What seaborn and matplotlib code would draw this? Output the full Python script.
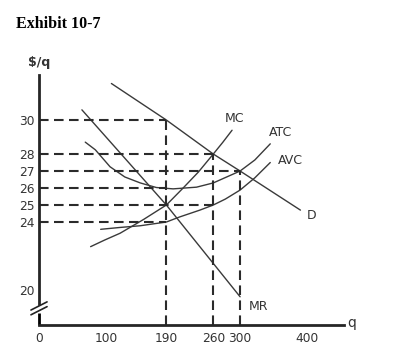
import numpy as np
import pandas as pd
import matplotlib
matplotlib.use("Agg")
import matplotlib.pyplot as plt
import seaborn as sns

# ==================== 曲线数据 ====================
d_q = [108, 190, 260, 300, 390]
d_p = [32.15, 30.0, 28.0, 27.0, 24.7]

mr_q = [64, 190, 300]
mr_p = [30.6, 25.0, 19.6]

mc_q = [77, 98, 121, 156, 190, 215, 238, 260, 274, 288]
mc_p = [22.55, 22.94, 23.34, 24.15, 25.0, 26.0, 26.95, 28.0, 28.68, 29.4]

atc_q = [69, 84, 106, 128, 151, 175, 200, 235, 260, 300, 322, 345]
atc_p = [28.7, 28.25, 27.25, 26.65, 26.3, 26.03, 25.95, 26.05, 26.3, 27.0, 27.65, 28.6]

avc_q = [92, 121, 151, 190, 210, 240, 260, 278, 300, 322, 345]
avc_p = [23.57, 23.68, 23.78, 24.0, 24.3, 24.7, 25.0, 25.35, 25.88, 26.6, 27.5]

# 虚线: 价格水平 -> 延伸到的产量
h_price = [30, 28, 27, 26, 25, 24]
h_until = [190, 260, 300, 190, 260, 190]
# 竖虚线: 产量 -> 顶端价格
v_qty = [190, 260, 300]
v_top = [30, 28, 27]

y_ticks = [20, 24, 25, 26, 27, 28, 30]
x_tick_pos = [0, 100, 190, 260, 300, 400]
x_tick_lab = ['0', '100', '190', '260', '300', '400']
x_marks = [100, 200, 300, 400]

labels = {'MC': (292, 30.1), 'ATC': (360, 29.25), 'AVC': (375, 27.6),
          'D': (406, 24.4), 'MR': (328, 19.0)}

XMAX, YMIN, YMAX = 455, 17.94, 32.65

sns.set_style("white")
plt.rcParams['font.family'] = ['DejaVu Sans']

fig = plt.figure(figsize=(3.98, 3.58), dpi=100)
ax = fig.add_axes([39 / 398, 1 - 325 / 358, 305 / 398, 250 / 358])

curves = [(d_q, d_p), (mr_q, mr_p), (mc_q, mc_p), (atc_q, atc_p), (avc_q, avc_p)]
for q, p in curves:
    df = pd.DataFrame({'q': q, 'p': p})
    sns.lineplot(data=df, x='q', y='p', sort=False, color='#3a3a3a', lw=1.0, ax=ax)

dash = (0, (4.6, 2.6))
ax.hlines(h_price, 0, h_until, colors='#2b2b2b', lw=1.5, linestyles=[dash])
ax.vlines(v_qty, YMIN, v_top, colors='#2b2b2b', lw=1.5, linestyles=[dash])

for name, (x, y) in labels.items():
    ax.text(x, y, name, fontsize=9, color='#333333', ha='center', va='center')

ax.set_xlim(0, XMAX)
ax.set_ylim(YMIN, YMAX)
ax.set_xlabel('')
ax.set_ylabel('')

ax.set_yticks(y_ticks)
ax.set_yticklabels([str(v) for v in y_ticks])
ax.tick_params(axis='y', direction='in', length=4, width=1.2, pad=3,
               labelsize=8.8, labelcolor='#333333')
ax.set_xticks(x_tick_pos)
ax.set_xticklabels(x_tick_lab)
ax.tick_params(axis='x', length=0, pad=5, labelsize=8.8, labelcolor='#333333')
ax.set_xticks(x_marks, minor=True)
ax.tick_params(axis='x', which='minor', direction='in', length=6, width=1.2)

for s in ['top', 'right']:
    ax.spines[s].set_visible(False)
ax.spines['bottom'].set_linewidth(2)
ax.spines['left'].set_linewidth(2)
ax.spines['left'].set_bounds(19.2, YMAX)
ax.plot([0, 0], [YMIN, 18.65], color='black', lw=2, clip_on=False, solid_capstyle='butt')
# 纵轴断裂符号
for yc in [19.06, 18.78]:
    ax.plot([-12, 12], [yc - 0.24, yc + 0.24], color='#222222', lw=1.2, clip_on=False)

ax.text(0, 33.4, '$/q', fontsize=9, weight='bold', color='#333333',
        ha='center', va='center')
ax.text(466, 18.07, 'q', fontsize=10, color='#333333', ha='center', va='center',
        clip_on=False)

fig.text(16 / 398, 1 - 28 / 358, 'Exhibit 10-7', family='Liberation Serif',
         weight='bold', fontsize=11.5, color='black', va='baseline', ha='left')

fig.savefig('out.png', dpi=100)
